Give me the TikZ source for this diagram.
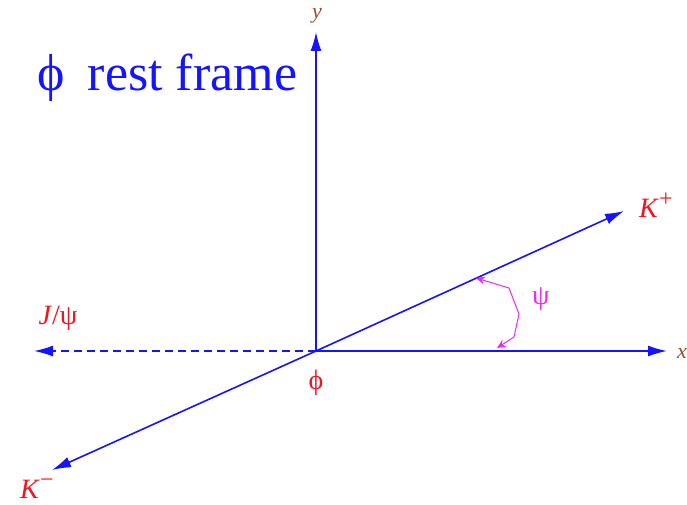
\documentclass[tikz,border=0pt]{standalone}
\usepackage{fontspec}
\setmainfont{Liberation Serif}
\usetikzlibrary{arrows.meta}
\definecolor{axblue}{RGB}{20,20,255}
\definecolor{lblred}{RGB}{240,20,30}
\definecolor{axbrown}{RGB}{150,80,40}
\definecolor{psimag}{RGB}{240,40,240}
\newcommand{\supsign}[1]{\raisebox{0.38em}{\fontsize{24}{24}\selectfont #1}}
\tikzset{
  axis/.style={draw=axblue, line width=1.6pt, -{Latex[length=19pt,width=11pt]}},
  redlbl/.style={text=lblred, font=\fontsize{28}{28}\selectfont, inner sep=0pt},
  brownlbl/.style={text=axbrown, font=\fontsize{22}{22}\selectfont\itshape, inner sep=0pt},
}
\begin{document}
\begin{tikzpicture}[x=1pt,y=-1pt]
\useasboundingbox (0,0) rectangle (687,505);
\coordinate (O) at (316,351);
\coordinate (Y) at (316,32);
\coordinate (X) at (667,351);
\coordinate (Kp) at (624,211);
\coordinate (Km) at (52,470);
\coordinate (J) at (34,351);
\draw[axis] (O) -- (Y);
\draw[axis] (O) -- (X);
\draw[axis] (O) -- (Kp);
\draw[axis] (O) -- (Km);
\draw[axis, dash pattern=on 8pt off 5pt] (O) -- (J);
\node[brownlbl] (ylbl) at (317,16) {y};
\node[brownlbl, anchor=west] (xlbl) at (677,353) {x};
\node[redlbl, anchor=base west] (Kplbl) at (639,217) {\textit{K}\supsign{+}};
\node[redlbl, anchor=base west] (Kmlbl) at (20,498) {\textit{K}\supsign{\textminus}};
\node[redlbl] (Jlbl) at (58,318) {\textit{J}/ψ};
\node[redlbl] (philbl) at (316,383) {\symbol{"03D5}};
\node[text=psimag, font=\fontsize{28}{28}\selectfont, inner sep=0pt] (psilbl) at (541,299) {ψ};
\node[text=axblue, font=\fontsize{52}{52}\selectfont, inner sep=0pt, anchor=base west] (title) at (37,91) {\symbol{"03D5}\hspace{0.45em}rest frame};
\coordinate (a1) at (476,278);
\coordinate (a2) at (497,348);
\draw[psimag, line width=1pt, {Stealth[length=9pt,width=8pt,inset=3pt]}-{Stealth[length=9pt,width=8pt,inset=3pt]}]
  (a1) -- (509,288) -- (519,314) -- (514,337) -- (a2);
\end{tikzpicture}
\end{document}
